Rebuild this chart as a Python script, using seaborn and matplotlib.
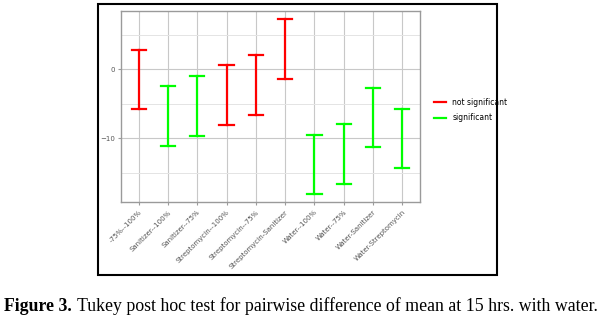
import matplotlib
matplotlib.use("Agg")
import matplotlib.pyplot as plt
from matplotlib.lines import Line2D
from matplotlib.patches import Rectangle
import seaborn as sns
import pandas as pd

comparisons = ["-75%--100%", "Sanitizer--100%", "Sanitizer--75%", "Streptomycin--100%",
               "Streptomycin--75%", "Streptomycin-Sanitizer", "Water--100%", "Water--75%",
               "Water-Sanitizer", "Water-Streptomycin"]
lower = [-5.75, -11.05, -9.6, -8.05, -6.6, -1.4, -18.0, -16.6, -11.3, -14.3]
upper = [2.8, -2.45, -1.05, 0.55, 2.0, 7.25, -9.45, -8.0, -2.75, -5.7]
significance = ["not significant", "significant", "significant", "not significant",
                "not significant", "not significant", "significant", "significant",
                "significant", "significant"]
legend_labels = ["not significant", "significant"]
colors = {"not significant": "#FF0000", "significant": "#00FF00"}

rows = []
for c, lo, hi, s in zip(comparisons, lower, upper, significance):
    rows.append({"comparison": c, "diff": lo, "sig": s})
    rows.append({"comparison": c, "diff": hi, "sig": s})
df = pd.DataFrame(rows)

W, H = 599, 323
fig = plt.figure(figsize=(W / 100, H / 100), dpi=100)
fig.patch.set_facecolor("white")

ax = fig.add_axes([121 / W, 1 - 202 / H, (420 - 121) / W, (202 - 11) / H])
sns.pointplot(data=df, x="comparison", y="diff", hue="sig", order=comparisons,
              hue_order=legend_labels, palette=colors, estimator="mean",
              errorbar=("pi", 100), capsize=0.48, markers="", linestyles="none",
              dodge=False, err_kws={"linewidth": 1.6}, legend=False, ax=ax)

ax.set_xlim(-0.6, 9.6)
ax.set_ylim(-19.2, 8.4)
ax.set_yticks([0, -10])
ax.set_yticks([5, -5, -15], minor=True)
ax.grid(True, which="major", color="#c8c8c8", linewidth=0.8)
ax.grid(True, which="minor", axis="y", color="#e4e4e4", linewidth=0.7)
ax.set_axisbelow(True)
for sp in ax.spines.values():
    sp.set_color("#9a9a9a")
    sp.set_linewidth(1.0)
ax.tick_params(axis="both", which="both", length=2, color="#9a9a9a",
               labelsize=5.0, labelcolor="#555555", pad=2)
ax.tick_params(axis="x", pad=3)
ax.tick_params(axis="y", which="minor", length=0)
ax.set_xticks(range(len(comparisons)))
ax.set_xticklabels(comparisons, rotation=45, ha="right", rotation_mode="anchor")
ax.set_xlabel("")
ax.set_ylabel("")

handles = [Line2D([0], [0], color=colors[l], linewidth=1.6) for l in legend_labels]
fig.legend(handles, legend_labels, loc="center left",
           bbox_to_anchor=(427 / W, 1 - 110 / H), frameon=False, fontsize=5.5,
           handlelength=1.6, handletextpad=0.8, labelspacing=0.9)

fig.patches.append(Rectangle((98 / W, 1 - 275 / H), (497 - 98) / W, (275 - 4) / H,
                             transform=fig.transFigure, fill=False,
                             edgecolor="black", linewidth=1.5))

cap_y = 1 - 311 / H
t1 = fig.text(4 / W, cap_y, "Figure 3.", fontfamily="Liberation Serif",
              fontweight="bold", fontsize=12.8, va="baseline", ha="left")
fig.canvas.draw()
bb = t1.get_window_extent()
fig.text((bb.x1 + 5) / W, cap_y,
         "Tukey post hoc test for pairwise difference of mean at 15 hrs. with water.",
         fontfamily="Liberation Serif", fontsize=12.8, va="baseline", ha="left")

fig.savefig("out.png", dpi=100)
